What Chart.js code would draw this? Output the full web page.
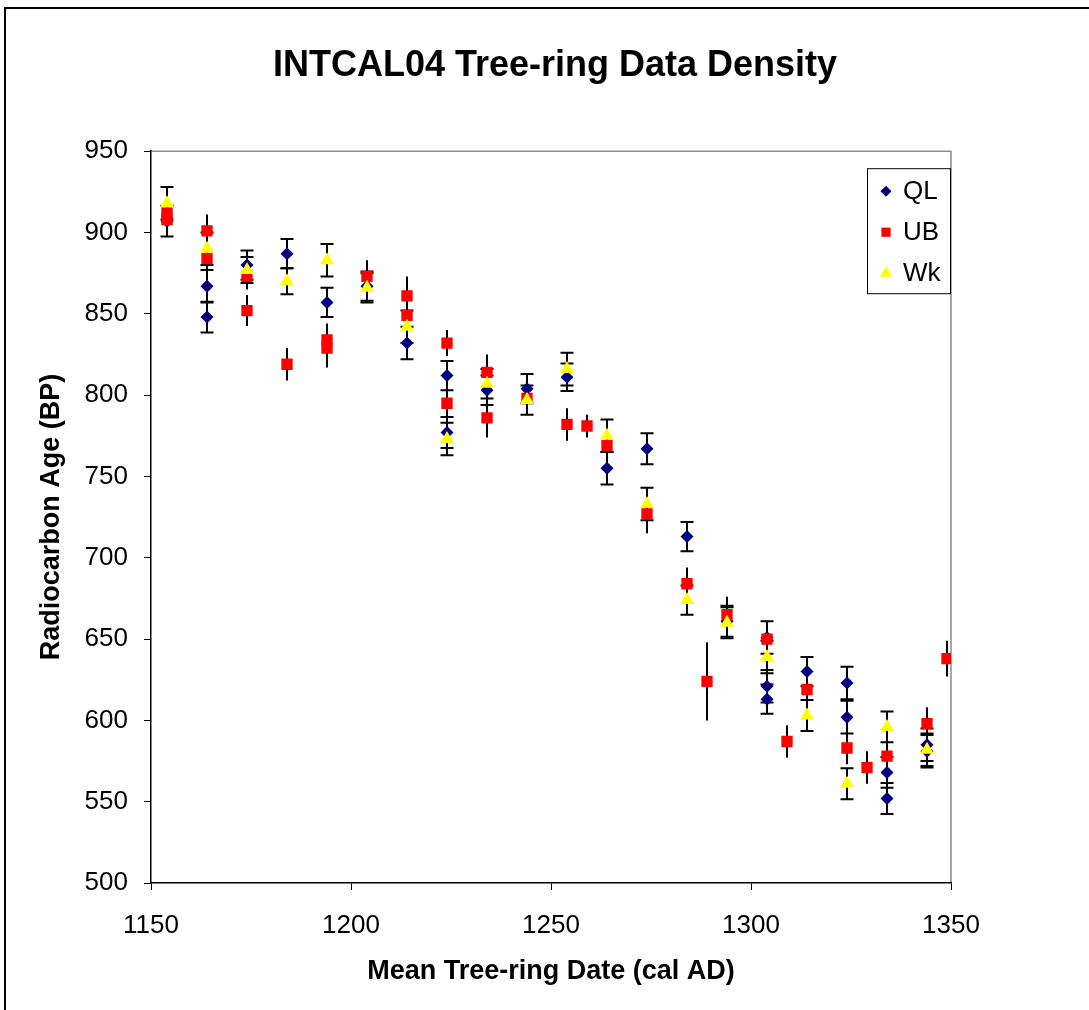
<!DOCTYPE html>
<html>
<head>
<meta charset="utf-8">
<script src="https://cdn.jsdelivr.net/npm/chart.js@4.4.1/dist/chart.umd.min.js"></script>
<style>
  body { margin: 0; background: #fff; }
  #wrap { width: 1089px; height: 1010px; }
</style>
</head>
<body>
<div id="wrap"><canvas id="myChart" width="1089" height="1010"></canvas></div>
<script>
// axis ticks
var xTicks = [1150, 1200, 1250, 1300, 1350];
var yTicks = [500, 550, 600, 650, 700, 750, 800, 850, 900, 950];

// QL series (date, age, 1 sigma)
var qlDate = [1154, 1164, 1164, 1174, 1184, 1194, 1204, 1214, 1224, 1224, 1234, 1244, 1254, 1264, 1274, 1284, 1294, 1304, 1304, 1304, 1314, 1324, 1324, 1334, 1334, 1344, 1344];
var qlAge  = [907, 867, 848, 880, 887, 857, 867, 832, 812, 777, 803, 804, 811, 755, 767, 713, 661, 651, 621, 613, 630, 623, 602, 568, 552, 585, 581];
var qlErr  = [9.5, 10, 9.5, 9, 9, 9, 9, 10, 9, 9.5, 9, 9, 8.5, 10, 9.5, 9, 9.5, 10, 10, 9, 9, 10, 10, 9.5, 9.5, 10, 10];

// UB series
var ubDate = [1154, 1154, 1164, 1164, 1174, 1174, 1184, 1194, 1194, 1204, 1214, 1214, 1224, 1224, 1234, 1234, 1244, 1254, 1259, 1264, 1274, 1284, 1289, 1294, 1304, 1309, 1314, 1324, 1329, 1334, 1344, 1349];
var ubAge  = [912, 908, 901, 884, 873, 852, 819, 834, 829, 873, 861, 849, 832, 795, 814, 786, 798, 782, 781, 769, 727, 684, 624, 665, 650, 587, 619, 583, 571, 578, 598, 638];
var ubErr  = [10, 10, 10, 10, 8, 9.5, 10, 10, 12, 10, 12, 10, 8, 10, 11, 12, 9, 10, 7, 10, 12, 10, 24, 11, 10, 10, 10, 10, 10, 10, 10, 11];

// Wk series
var wkDate = [1154, 1164, 1174, 1184, 1194, 1204, 1214, 1224, 1234, 1244, 1254, 1264, 1274, 1284, 1294, 1304, 1314, 1324, 1334, 1344];
var wkAge  = [918, 890, 877, 870, 883, 866, 842, 773, 807, 797, 816, 775, 733, 674, 660, 639, 603, 561, 596, 582];
var wkErr  = [10, 10, 8, 8, 10, 9, 10, 10, 9, 9, 10, 10, 10, 9, 9.5, 10, 9.5, 9.5, 9.5, 10];

var FONT = "'Liberation Sans', Arial, sans-serif";

function points(dates, ages) {
  var out = [];
  for (var i = 0; i < dates.length; i++) {
    out.push({x: dates[i], y: ages[i]});
  }
  return out;
}

// error bars under the markers, UB has no end caps
var errorBars = {
  id: 'errorBars',
  beforeDatasetsDraw: function (chart) {
    var ctx = chart.ctx;
    var xs = chart.scales.x, ys = chart.scales.y;
    ctx.save();
    ctx.strokeStyle = '#000';
    ctx.lineWidth = 2;
    chart.data.datasets.forEach(function (ds) {
      ds.data.forEach(function (p, i) {
        var x = xs.getPixelForValue(p.x);
        var y1 = ys.getPixelForValue(p.y + ds.err[i]);
        var y2 = ys.getPixelForValue(p.y - ds.err[i]);
        ctx.beginPath();
        ctx.moveTo(x, y1);
        ctx.lineTo(x, y2);
        if (ds.cap) {
          ctx.moveTo(x - 6.5, y1); ctx.lineTo(x + 6.5, y1);
          ctx.moveTo(x - 6.5, y2); ctx.lineTo(x + 6.5, y2);
        }
        ctx.stroke();
      });
    });
    ctx.restore();
  }
};

// outer frame + grey plot border
var frame = {
  id: 'frame',
  beforeDraw: function (chart) {
    var ctx = chart.ctx, a = chart.chartArea;
    ctx.save();
    ctx.fillStyle = '#fff';
    ctx.fillRect(0, 0, chart.width, chart.height);
    ctx.strokeStyle = '#000';
    ctx.lineWidth = 2;
    ctx.beginPath();
    ctx.moveTo(5, chart.height);
    ctx.lineTo(5, 8);
    ctx.lineTo(chart.width, 8);
    ctx.stroke();
    ctx.strokeStyle = '#8c8c8c';
    ctx.lineWidth = 1.5;
    ctx.beginPath();
    ctx.moveTo(a.left, a.top);
    ctx.lineTo(a.right, a.top);
    ctx.lineTo(a.right, a.bottom);
    ctx.stroke();
    ctx.restore();
  }
};

// boxed legend in the top right corner of the plot
var boxLegend = {
  id: 'boxLegend',
  afterDraw: function (chart) {
    var ctx = chart.ctx, a = chart.chartArea;
    var right = a.right - 1, left = right - 83, top = a.top + 17, h = 125;
    ctx.save();
    ctx.fillStyle = '#fff';
    ctx.fillRect(left, top, right - left, h);
    ctx.strokeStyle = '#000';
    ctx.lineWidth = 1;
    ctx.strokeRect(left + 0.5, top + 0.5, right - left, h);
    var sizes = [5.5, 6.5, 7];
    chart.data.datasets.forEach(function (ds, i) {
      var cy = top + 23 + i * 41;
      ctx.fillStyle = ds.backgroundColor;
      ctx.strokeStyle = ds.backgroundColor;
      Chart.helpers.drawPoint(ctx, {pointStyle: ds.pointStyle, radius: sizes[i], rotation: 0, borderWidth: 0}, left + 19, cy);
      ctx.fillStyle = '#000';
      ctx.font = '26px ' + FONT;
      ctx.textBaseline = 'middle';
      ctx.textAlign = 'left';
      ctx.fillText(ds.label, left + 36, cy + 1);
    });
    ctx.restore();
  }
};

new Chart('myChart', {
  type: 'scatter',
  data: {
    datasets: [{
      label: 'QL',
      data: points(qlDate, qlAge),
      err: qlErr,
      cap: true,
      order: 3,
      pointStyle: 'rectRot',
      pointRadius: 6.5,
      backgroundColor: '#000080',
      borderColor: '#000080',
      borderWidth: 0
    }, {
      label: 'UB',
      data: points(ubDate, ubAge),
      err: ubErr,
      cap: false,
      order: 2,
      pointStyle: 'rect',
      pointRadius: 8,
      backgroundColor: '#ff0000',
      borderColor: '#ff0000',
      borderWidth: 0
    }, {
      label: 'Wk',
      data: points(wkDate, wkAge),
      err: wkErr,
      cap: true,
      order: 1,
      pointStyle: 'triangle',
      pointRadius: 8,
      backgroundColor: '#ffff00',
      borderColor: '#ffff00',
      borderWidth: 0
    }]
  },
  options: {
    responsive: false,
    animation: false,
    events: [],
    layout: { padding: { left: 21, right: 0, top: 0, bottom: 0 } },
    plugins: {
      legend: { display: false },
      tooltip: { enabled: false },
      title: {
        display: true,
        text: 'INTCAL04 Tree-ring Data Density',
        color: '#000',
        font: { family: FONT, size: 36, weight: 'bold' },
        padding: { top: 44, bottom: 64 }
      }
    },
    scales: {
      x: {
        type: 'linear',
        min: xTicks[0],
        max: xTicks[xTicks.length - 1],
        afterBuildTicks: function (s) { s.ticks = xTicks.map(function (v) { return {value: v}; }); },
        afterFit: function (s) { s.height = 127; },
        ticks: {
          color: '#000', padding: 20, maxRotation: 0,
          font: { family: FONT, size: 26 },
          callback: function (v) { return String(v); }
        },
        grid: { drawOnChartArea: false, drawTicks: true, tickLength: 7, color: '#000', lineWidth: 1 },
        border: { display: true, color: '#000', width: 1.5 },
        title: {
          display: true,
          text: 'Mean Tree-ring Date (cal AD)',
          color: '#000',
          font: { family: FONT, size: 27, weight: 'bold' },
          padding: { top: 0, bottom: 22 }
        }
      },
      y: {
        type: 'linear',
        min: yTicks[0],
        max: yTicks[yTicks.length - 1],
        afterBuildTicks: function (s) { s.ticks = yTicks.map(function (v) { return {value: v}; }); },
        afterFit: function (s) { s.width = 130; },
        ticks: { color: '#000', padding: 16, font: { family: FONT, size: 26 } },
        grid: { drawOnChartArea: false, drawTicks: true, tickLength: 7, color: '#000', lineWidth: 1 },
        border: { display: true, color: '#000', width: 1.5 },
        title: {
          display: true,
          text: 'Radiocarbon Age (BP)',
          color: '#000',
          font: { family: FONT, size: 27, weight: 'bold' },
          padding: { top: 14, bottom: 0 }
        }
      },
      // empty right-hand margin, keeps the title centred like the original
      yr: {
        type: 'linear',
        position: 'right',
        display: true,
        afterFit: function (s) { s.width = 138; },
        ticks: { display: false },
        grid: { display: false },
        border: { display: false }
      }
    }
  },
  plugins: [frame, errorBars, boxLegend]
});
</script>
</body>
</html>
